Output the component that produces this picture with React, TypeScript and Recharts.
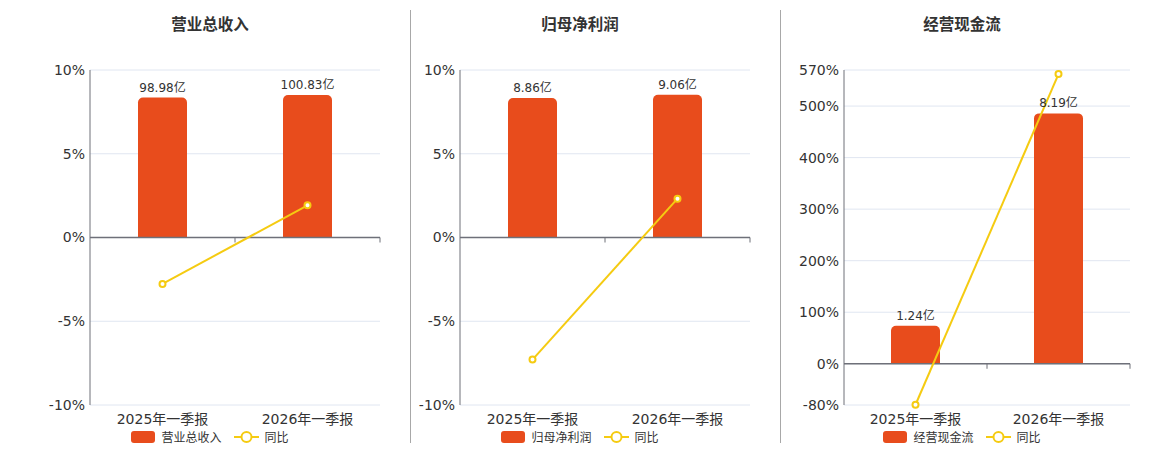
import React from 'react';
import {
  ComposedChart,
  Bar,
  Line,
  XAxis,
  YAxis,
  CartesianGrid,
  ReferenceLine,
  LabelList,
  Legend,
} from 'recharts';

const categories = ['2025年一季报', '2026年一季报'];

const revenueValues = [98.98, 100.83];
const revenueYoY = [-2.77, 1.92];

const profitValues = [8.86, 9.06];
const profitYoY = [-7.29, 2.32];

const cashValues = [1.24, 8.19];
const cashYoY = [-79.5, 562];

const pctTicksSmall = [-10, -5, 0, 5, 10];
const pctTicksCash = [-80, 0, 100, 200, 300, 400, 500, 570];

const BAR_COLOR = '#e84c1c';
const LINE_COLOR = '#f5cb11';
const AXIS_COLOR = '#6e7079';
const FONT = '"DejaVu Sans", "Noto Sans CJK SC", sans-serif';

interface PanelProps {
  title: string;
  barName: string;
  values: number[];
  yoy: number[];
  pctDomain: [number, number];
  pctTicks: number[];
  barDomain: [number, number];
  left: number;
  width: number;
}

// zero line doubles as the category axis, with marks at the category boundaries
const ZeroAxis = (props: any) => {
  const { x1, y1, x2, y2 } = props;
  const n = categories.length;
  const step = (x2 - x1) / n;
  const marks = [];
  for (let i = 1; i <= n; i++) {
    const x = x1 + step * i;
    marks.push(<line key={i} x1={x} y1={y1} x2={x} y2={y1 + 5} stroke={AXIS_COLOR} strokeWidth={1} />);
  }
  return (
    <g>
      <line x1={x1} y1={y1} x2={x2} y2={y2} stroke={AXIS_COLOR} strokeWidth={1.5} />
      {marks}
    </g>
  );
};

const LegendContent = ({ barName }: { barName: string }) => (
  <div style={{ display: 'flex', justifyContent: 'center', alignItems: 'center', fontSize: 12, color: '#333', fontFamily: FONT }}>
    <span style={{ display: 'inline-block', width: 24, height: 12, borderRadius: 3, background: BAR_COLOR, marginRight: 6 }} />
    <span style={{ marginRight: 12 }}>{barName}</span>
    <svg width={25} height={12} style={{ marginRight: 6 }}>
      <line x1={0} y1={6} x2={25} y2={6} stroke={LINE_COLOR} strokeWidth={2} />
      <circle cx={12.5} cy={6} r={5} fill="#fff" stroke={LINE_COLOR} strokeWidth={2} />
    </svg>
    <span>同比</span>
  </div>
);

const Panel: React.FC<PanelProps> = ({ title, barName, values, yoy, pctDomain, pctTicks, barDomain, left, width }) => {
  const data = categories.map((c, i) => ({ name: c, value: values[i], yoy: yoy[i] }));

  return (
    <div style={{ position: 'absolute', left, top: 0, width, height: 450 }}>
      <div
        style={{
          position: 'absolute',
          top: 12,
          left: 0,
          width,
          textAlign: 'center',
          fontSize: 15.5,
          fontWeight: 'bold',
          color: '#333',
          fontFamily: FONT,
        }}
      >
        {title}
      </div>
      <ComposedChart width={width} height={450} data={data} margin={{ top: 70, right: 10, bottom: 15, left: 0 }}>
        <CartesianGrid yAxisId="pct" vertical={false} stroke="#e0e6f1" />
        <XAxis
          dataKey="name"
          axisLine={false}
          tickLine={false}
          tickSize={6}
          tickMargin={3}
          height={30}
          tick={{ fill: '#333', fontSize: 14, fontFamily: FONT }}
        />
        <YAxis
          yAxisId="pct"
          orientation="left"
          domain={pctDomain}
          ticks={pctTicks}
          interval={0}
          width={60}
          axisLine={{ stroke: AXIS_COLOR }}
          tickLine={false}
          tickSize={3}
          tickMargin={2}
          tickFormatter={(v: number) => `${v}%`}
          tick={{ fill: '#333', fontSize: 14, fontFamily: FONT }}
        />
        <YAxis yAxisId="bar" orientation="right" width={0} domain={barDomain} hide allowDataOverflow />
        <Bar
          yAxisId="bar"
          dataKey="value"
          name={barName}
          fill={BAR_COLOR}
          barSize={49}
          radius={[5, 5, 0, 0]}
          isAnimationActive={false}
        >
          <LabelList
            dataKey="value"
            position="top"
            offset={6}
            formatter={(v: any) => `${v}亿`}
            style={{ fill: '#333', fontSize: 12, fontFamily: FONT }}
          />
        </Bar>
        <ReferenceLine yAxisId="pct" y={0} shape={ZeroAxis} />
        <Line
          yAxisId="pct"
          dataKey="yoy"
          name="同比"
          stroke={LINE_COLOR}
          strokeWidth={2}
          dot={{ r: 3, fill: '#fff', stroke: LINE_COLOR, strokeWidth: 2 }}
          isAnimationActive={false}
        />
        <Legend
          verticalAlign="middle"
          align="center"
          layout="horizontal"
          wrapperStyle={{ top: 428, left: 0, width }}
          content={() => <LegendContent barName={barName} />}
        />
      </ComposedChart>
    </div>
  );
};

export default function App() {
  return (
    <div style={{ position: 'absolute', left: 0, top: 0, width: 1160, height: 450, background: '#fff', fontFamily: FONT }}>
      <Panel
        title="营业总收入"
        barName="营业总收入"
        values={revenueValues}
        yoy={revenueYoY}
        pctDomain={[-10, 10]}
        pctTicks={pctTicksSmall}
        barDomain={[-118.5, 118.5]}
        left={30}
        width={360}
      />
      <div style={{ position: 'absolute', left: 410, top: 10, width: 1, height: 433, background: '#a8a8a8' }} />
      <Panel
        title="归母净利润"
        barName="归母净利润"
        values={profitValues}
        yoy={profitYoY}
        pctDomain={[-10, 10]}
        pctTicks={pctTicksSmall}
        barDomain={[-10.64, 10.64]}
        left={400}
        width={360}
      />
      <div style={{ position: 'absolute', left: 780, top: 10, width: 1, height: 433, background: '#a8a8a8' }} />
      <Panel
        title="经营现金流"
        barName="经营现金流"
        values={cashValues}
        yoy={cashYoY}
        pctDomain={[-80, 570]}
        pctTicks={pctTicksCash}
        barDomain={[-1.349, 9.61]}
        left={784}
        width={356}
      />
    </div>
  );
}
